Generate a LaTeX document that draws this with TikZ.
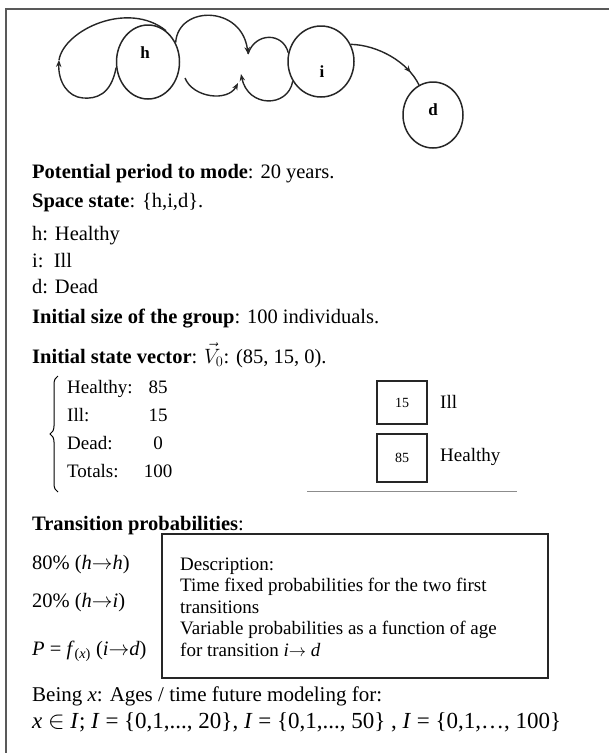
\documentclass[tikz,border=0pt]{standalone}
\usepackage{fontspec}
\setmainfont{Liberation Serif}
\usetikzlibrary{shapes.geometric,arrows.meta,decorations.pathreplacing,decorations.markings}
\begin{document}
\begin{tikzpicture}[x=1pt, y=-1pt,
    state/.style={draw=black!85, ellipse, line width=1.5pt, inner sep=0pt},
    statelabel/.style={inner sep=0pt, font=\fontsize{17}{17}\selectfont\bfseries},
    link/.style={draw=black!85, line width=1.4pt},
    tip/.style={-{Stealth[length=7pt, width=5.5pt]}},
    tipat/.style={postaction={decorate}, decoration={markings, mark=at position #1 with {\arrow{Stealth[length=7pt, width=5.5pt]}}}},
    txt/.style={anchor=base west, inner sep=0pt, font=\fontsize{20.5}{24}\selectfont},
    tab/.style={inner sep=0pt, font=\fontsize{19}{22}\selectfont},
    desc/.style={anchor=base west, inner sep=0pt, font=\fontsize{19}{22}\selectfont},
    numbox/.style={draw=black!85, line width=1.3pt, minimum width=50pt, inner sep=0pt, font=\fontsize{14}{16}\selectfont}]
\useasboundingbox (0,0) rectangle (609,753);
% frame, top and left edge only
\draw[black!65, line width=2pt] (609,9) -- (6,9) -- (6,753);

% the three states
\node[state, minimum width=63pt, minimum height=74pt] (h) at (148,62) {};
\node[state, minimum width=66pt, minimum height=71pt] (i) at (321,61.5) {};
\node[state, minimum width=60pt, minimum height=66pt] (d) at (433,115) {};
\node[statelabel] (hlab) at (145,53) {h};
\node[statelabel] (ilab) at (322,72) {i};
\node[statelabel] (dlab) at (433,110) {d};

% loop on h
\coordinate (hloop) at (59,60);
\draw[link, tip] (h.190) .. controls (111,95) and (96,99) .. (83,98)
    .. controls (68,97) and (58,82) .. (hloop);
\draw[link] (hloop) .. controls (64,30) and (128,0) .. (h.60);

% h <-> i, upper arcs
\coordinate (upmeet) at (248,54);
\draw[link, tip] (h.35) .. controls (178,5) and (242,5) .. (upmeet);
\draw[link] (i.165) .. controls (283,32) and (255,32) .. (upmeet);

% h <-> i, lower arcs
\coordinate (lowstart) at (185,78);
\coordinate (lowtipa) at (238,83);
\coordinate (lowtipb) at (241,74);
\draw[link, tip] (lowstart) .. controls (193,98) and (228,102) .. (lowtipa);
\draw[link, tip] (i.215) .. controls (288,108) and (248,108) .. (lowtipb);

% i -> d
\draw[link, tipat=0.82] (i.30) .. controls (378,45) and (408,62) .. (d.115);

% text block
\node[txt] (period) at (32,178) {\textbf{Potential period to mode}: 20 years.};
\node[txt] (space) at (32,207) {\textbf{Space state}: \{h,i,d\}.};
\node[txt] (hname) at (32,240) {h: Healthy};
\node[txt] (iname) at (32,267) {i:\ \ Ill};
\node[txt] (dname) at (32,293) {d: Dead};
\node[txt] (size) at (32,323) {\textbf{Initial size of the group}: 100 individuals.};
\node[txt] (vector) at (32,363) {\textbf{Initial state vector}: $\vec{V}_{0}$: (85, 15, 0).};

% initial counts
\draw[decorate, decoration={brace, amplitude=8pt}, line width=1pt] (58,492) -- (58,376);
\foreach \name/\val/\yy in {Healthy/85/393, Ill/15/421, Dead/0/449, Totals/100/477} {
  \node[tab, anchor=base west] (row\name) at (67,\yy) {\name:};
  \node[tab, anchor=base] (val\name) at (158,\yy) {\val};
}
\node[numbox, minimum height=43pt] (illbox) at (402,402.5) {15};
\node[numbox, minimum height=48pt] (healthybox) at (402,458) {85};
\node[tab, anchor=west] (illtxt) at (440,402) {Ill};
\node[tab, anchor=west] (healthytxt) at (440,457) {Healthy};
\draw[black!45, line width=0.8pt] (307,491) -- (517,491);

% transitions
\node[txt] (trans) at (32,530) {\textbf{Transition probabilities}:};
\node[txt] (phh) at (32,569) {80\% (\textit{h}$\rightarrow$\textit{h})};
\node[txt] (phi) at (32,607) {20\% (\textit{h}$\rightarrow$\textit{i})};
\node[txt] (pid) at (32,655) {\textit{P} = \textit{f}\textsubscript{(\textit{x})} (\textit{i}$\rightarrow$\textit{d})};

\node[draw=black!85, line width=1.4pt, minimum width=386pt, minimum height=144pt, inner sep=0pt] (descbox) at (355,606) {};
\node[desc] (d1) at (180,570) {Description:};
\node[desc] (d2) at (180,591.5) {Time fixed probabilities for the two first};
\node[desc] (d3) at (180,613) {transitions};
\node[desc] (d4) at (180,634.5) {Variable probabilities as a function of age};
\node[desc] (d5) at (180,656) {for transition \textit{i}$\rightarrow$ \textit{d}};

\node[txt, font=\fontsize{21}{24}\selectfont] (being) at (32,701) {Being \textit{x}: Ages / time future modeling for:};
\node[txt, font=\fontsize{23}{26}\selectfont] (ranges) at (32,728) {\textit{x} $\in$ \textit{I}; \textit{I} = \{0,1,..., 20\}, \textit{I} = \{0,1,..., 50\} , \textit{I} = \{0,1,…, 100\}};
\end{tikzpicture}
\end{document}
